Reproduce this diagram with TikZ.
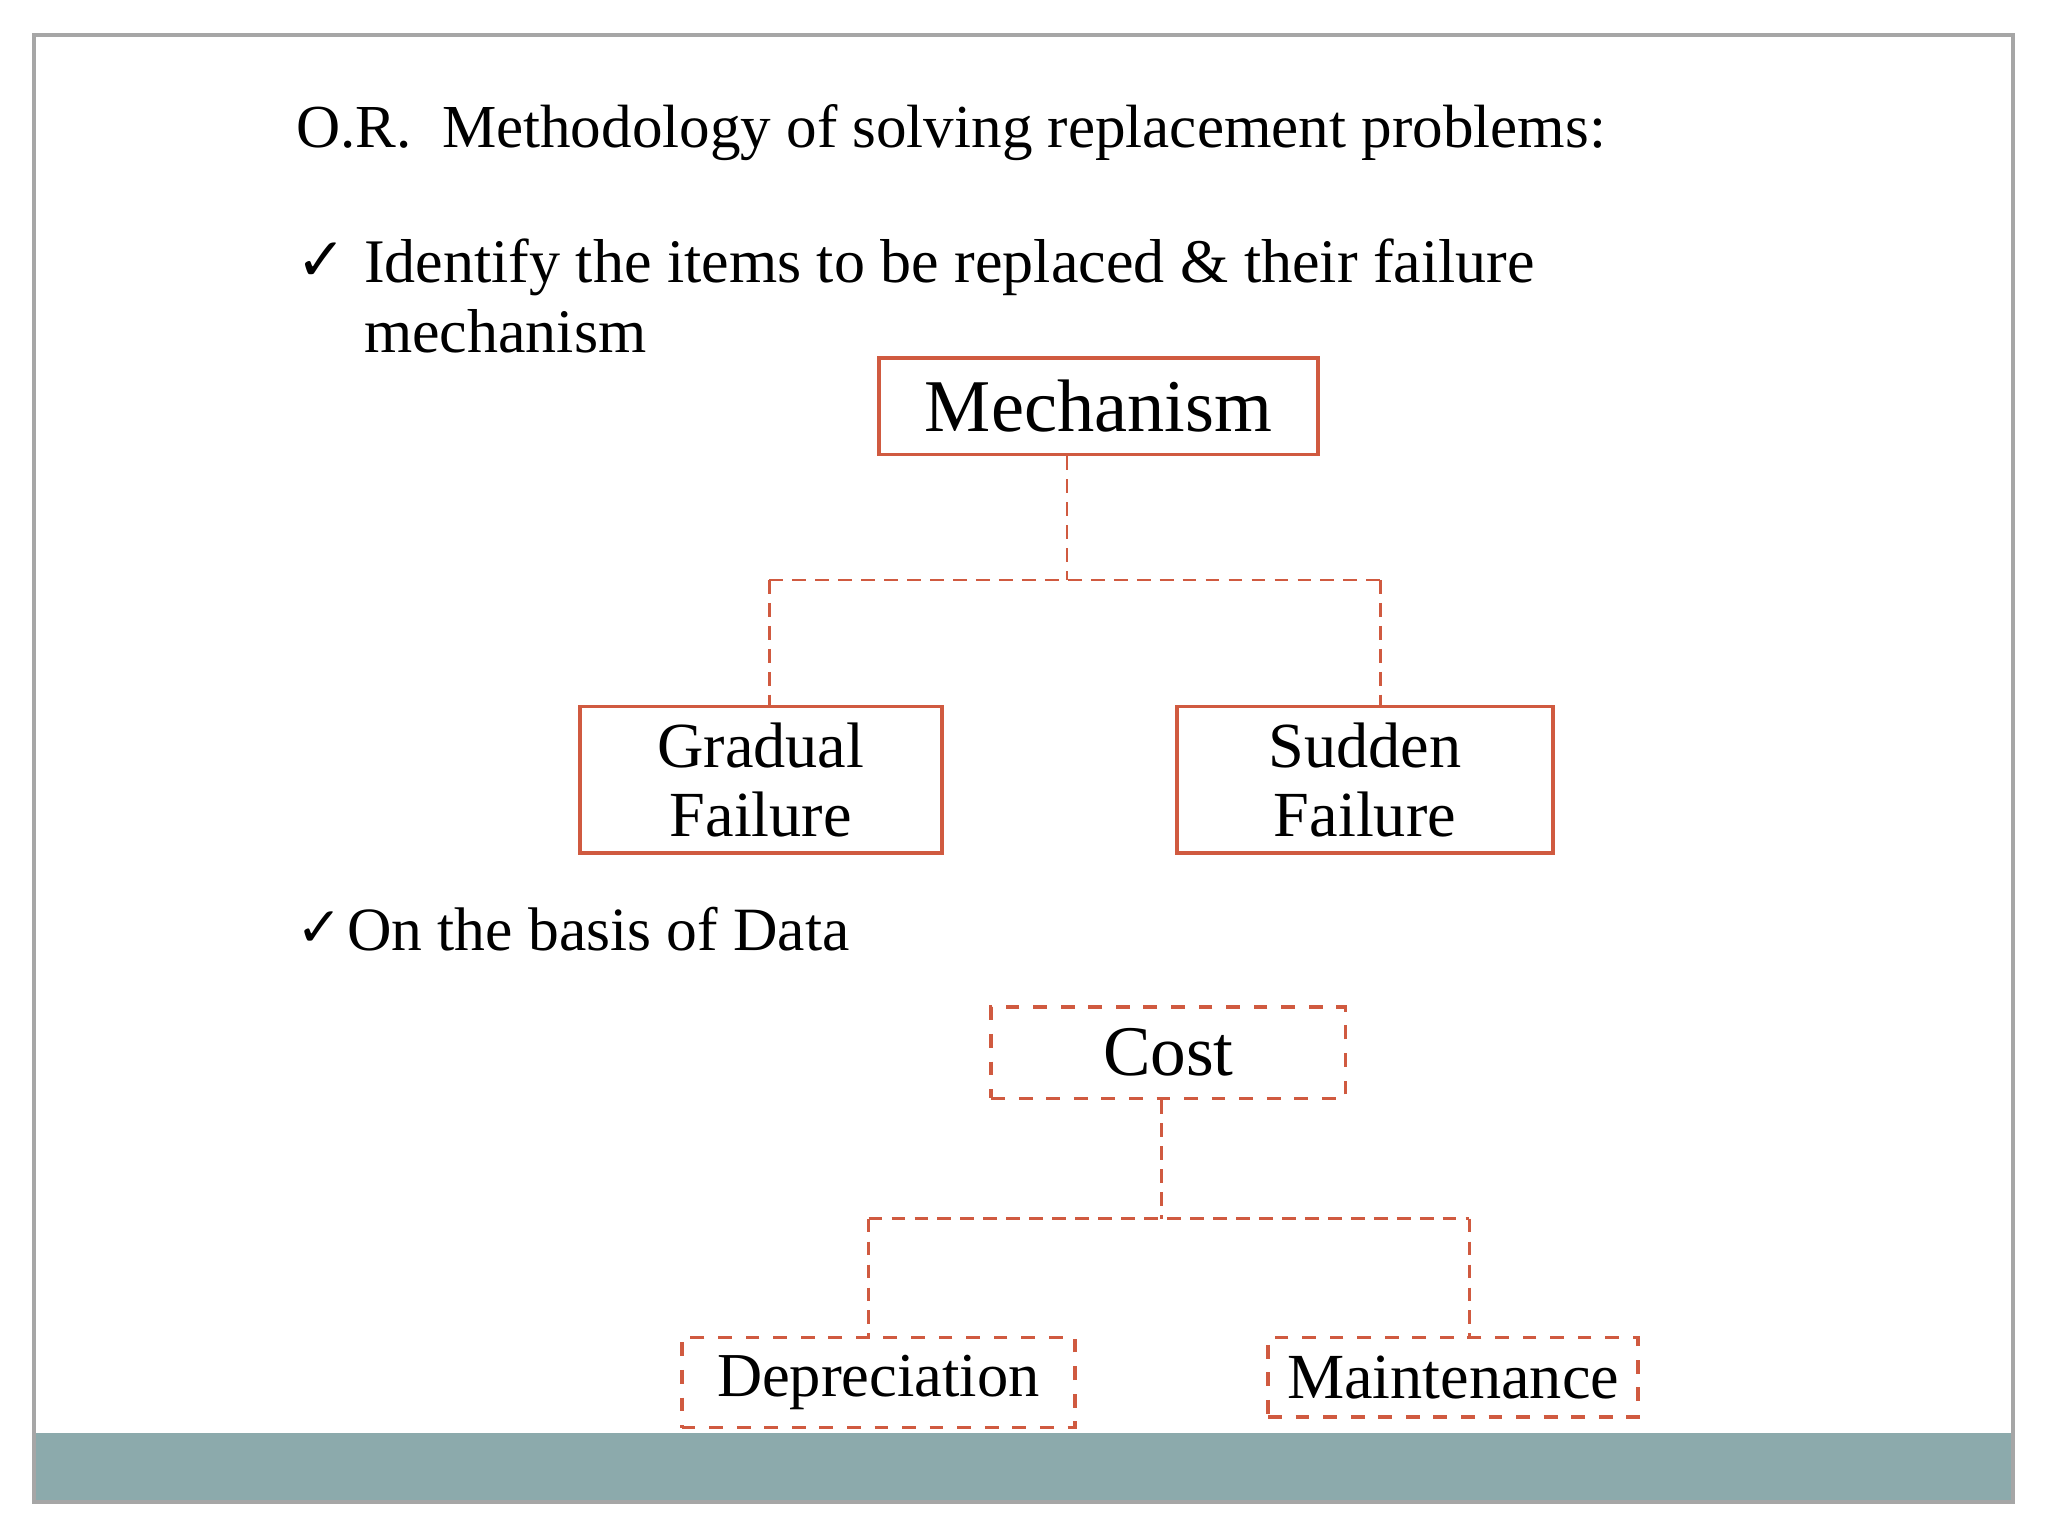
\documentclass[tikz,border=0pt]{standalone}
\usepackage{fontspec}
\setmainfont{Liberation Serif}
\newfontfamily\symfont{DejaVu Sans}
\definecolor{boxred}{RGB}{208,90,64}
\definecolor{bargray}{RGB}{140,170,172}
\begin{document}
\begin{tikzpicture}
        [x=0.01cm,y=-0.01cm,
         solidbox/.style={draw=boxred,line width=0.8pt,inner sep=0pt},
         dashbox/.style={draw=boxred,dashed,line width=0.8pt,inner sep=0pt},
         link/.style={draw=boxred,densely dashed,line width=0.6pt},
         body/.style={anchor=base west,inner sep=0pt}]
        \useasboundingbox (0,0) rectangle (1568,1176);
        % slide frame and bottom bar
        \fill[bargray] (26,1097) rectangle (1541,1150);
        \draw[gray!70,line width=0.8pt] (26,27) rectangle (1541,1150);

        % texts
        \node[body,font=\fontsize{13.3pt}{15pt}\selectfont] (title) at (226,113) {O.R.\ \ Methodology of solving replacement problems:};
        \node[body,font=\fontsize{13pt}{15pt}\selectfont\symfont] (tick1) at (226,215) {✓};
        \node[body,align=left,font=\fontsize{13.5pt}{15.2pt}\selectfont] (item1) at (278,270) {Identify the items to be replaced \& their failure\\mechanism};
        \node[body,font=\fontsize{12pt}{15pt}\selectfont\symfont] (tick2) at (226,725) {✓};
        \node[body,font=\fontsize{13.4pt}{16pt}\selectfont] (item2) at (265,728) {On the basis of Data};

        % mechanism tree
        \node[solidbox,minimum width=3.36cm,minimum height=0.74cm,font=\fontsize{16.2pt}{20pt}\selectfont] (mech) at (841,311) {Mechanism};
        \node[solidbox,minimum width=2.77cm,minimum height=1.12cm,align=center,font=\fontsize{14pt}{15pt}\selectfont] (grad) at (582.5,597) {Gradual\\Failure};
        \node[solidbox,minimum width=2.88cm,minimum height=1.12cm,align=center,font=\fontsize{14pt}{15pt}\selectfont] (sudd) at (1045,597) {Sudden\\Failure};
        \coordinate (mj) at (817,444);
        \coordinate (ml) at (589,444);
        \coordinate (mr) at (1057,444);
        \draw[link] (mech.south -| mj) -- (mj);
        \draw[link] (ml) -- (mr);
        \draw[link] (ml) -- (grad.north -| ml);
        \draw[link] (mr) -- (sudd.north -| mr);

        % cost tree
        \node[dashbox,minimum width=2.71cm,minimum height=0.70cm,font=\fontsize{15.5pt}{20pt}\selectfont] (cost) at (894.5,806) {Cost};
        \node[dashbox,minimum width=3.01cm,minimum height=0.69cm,font=\fontsize{13.6pt}{16pt}\selectfont] (depr) at (672.5,1058.5) {Depreciation};
        \node[dashbox,minimum width=2.83cm,minimum height=0.61cm,font=\fontsize{14pt}{16pt}\selectfont] (main) at (1112.5,1054.5) {Maintenance};
        \coordinate (cj) at (889,933);
        \coordinate (cl) at (665,933);
        \coordinate (cr) at (1125,933);
        \draw[link] (cost.south -| cj) -- (cj);
        \draw[link] (cl) -- (cr);
        \draw[link] (cl) -- (depr.north -| cl);
        \draw[link] (cr) -- (main.north -| cr);
    \end{tikzpicture}
\end{document}
